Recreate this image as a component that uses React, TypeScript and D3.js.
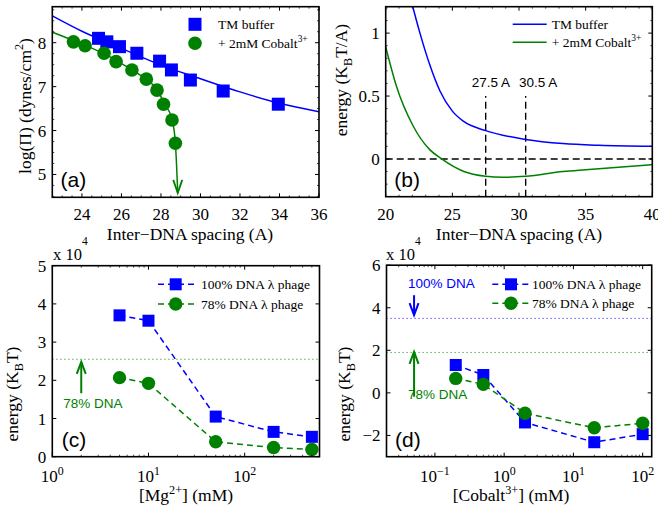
import React, { useEffect, useRef } from 'react';
import * as d3 from 'd3';

const BLUE = '#0000ff';
const GREEN = '#008000';
const SERIF = '"Liberation Serif", "Times New Roman", serif';
const SANS = '"Liberation Sans", Arial, sans-serif';

// (a) osmotic pressure vs inter-DNA spacing
const tmSpacing = [24.84, 25.26, 25.9, 26.78, 27.93, 28.53, 29.49, 31.15, 33.94];
const tmLogP = [8.1, 8.02, 7.91, 7.76, 7.58, 7.38, 7.15, 6.9, 6.6];
const coSpacing = [23.57, 24.16, 25.12, 25.73, 26.53, 27.26, 27.8, 28.13, 28.56, 28.73];
const coLogP = [8.02, 7.93, 7.76, 7.57, 7.38, 7.17, 6.92, 6.6, 6.24, 5.71];
const tmFitX = [22.5, 24, 26, 28, 30, 32, 34, 36];
const tmFitY = [8.61, 8.26, 7.87, 7.49, 7.18, 6.88, 6.62, 6.43];
const coFitX = [22.5, 23.57, 24.16, 25.12, 25.73, 26.53, 27.26, 27.8, 28.13, 28.56, 28.73, 28.85];
const coFitY = [8.24, 8.05, 7.94, 7.75, 7.6, 7.38, 7.16, 6.94, 6.65, 6.25, 5.72, 4.58];

// (b) interaction energy per length
const tmEX = [22.03, 22.57, 23.3, 24.07, 25, 25.82, 27.5, 30.5, 33.3, 36, 40];
const tmEY = [1.21, 1.0, 0.75, 0.54, 0.38, 0.3, 0.225, 0.155, 0.122, 0.108, 0.1];
const coEX = [20, 20.8, 22.07, 23.3, 24.2, 25.82, 27.5, 28.8, 30.5, 33.3, 35, 40];
const coEY = [0.89, 0.58, 0.26, 0.074, 0, -0.098, -0.138, -0.146, -0.138, -0.1, -0.085, -0.045];
const markSpacing = [27.5, 30.5];

// (c) energy vs Mg2+
const mgConc = [5, 10, 50, 200, 500];
const mgFull = [37000, 35600, 10500, 6500, 5200];
const mgPart = [20700, 19200, 3900, 2400, 1900];
const mgRef78 = 25500;

// (d) energy vs Cobalt3+
const coConc = [0.2, 0.5, 2, 20, 100];
const coFull = [13100, 8400, -13900, -23200, -19400];
const coPart = [6800, 4000, -9600, -16400, -14300];
const coRef100 = 35000;
const coRef78 = 19000;

type Box = { left: number; right: number; top: number; bottom: number };

function rich(text: any, parts: [string, number][], fs: number) {
  let cur = 0;
  parts.forEach(([s, k]) => {
    const off = k === 1 ? -0.42 * fs : k === -1 ? 0.3 * fs : 0;
    text.append('tspan').attr('dy', off - cur).attr('font-size', k ? fs * 0.7 : fs).text(s);
    cur = off;
  });
}

function clip(svg: any, id: string, b: Box) {
  svg.append('clipPath').attr('id', id).append('rect')
    .attr('x', b.left).attr('y', b.top).attr('width', b.right - b.left).attr('height', b.bottom - b.top);
}

function ticksFrame(g: any, b: Box, x: any, y: any, xMaj: number[], xMin: number[], yMaj: number[], yMin: number[]) {
  const t = g.append('g').attr('stroke', '#000');
  const seg = (x1: number, y1: number, x2: number, y2: number, w: number) =>
    t.append('line').attr('x1', x1).attr('y1', y1).attr('x2', x2).attr('y2', y2).attr('stroke-width', w);
  xMaj.forEach(v => { const p = x(v); seg(p, b.bottom, p, b.bottom - 4, 1); seg(p, b.top, p, b.top + 4, 1); });
  xMin.forEach(v => { const p = x(v); seg(p, b.bottom, p, b.bottom - 2, 0.7); seg(p, b.top, p, b.top + 2, 0.7); });
  yMaj.forEach(v => { const p = y(v); seg(b.left, p, b.left + 4, p, 1); seg(b.right, p, b.right - 4, p, 1); });
  yMin.forEach(v => { const p = y(v); seg(b.left, p, b.left + 2, p, 0.7); seg(b.right, p, b.right - 2, p, 0.7); });
  g.append('rect').attr('x', b.left).attr('y', b.top).attr('width', b.right - b.left).attr('height', b.bottom - b.top)
    .attr('fill', 'none').attr('stroke', '#000').attr('stroke-width', 1.6);
}

function squares(g: any, xs: number[], ys: number[], x: any, y: any, size: number) {
  g.selectAll(null).data(xs.map((v, i) => [v, ys[i]])).join('rect')
    .attr('x', (d: number[]) => x(d[0]) - size / 2).attr('y', (d: number[]) => y(d[1]) - size / 2)
    .attr('width', size).attr('height', size).attr('fill', BLUE);
}

function circles(g: any, xs: number[], ys: number[], x: any, y: any, r: number) {
  g.selectAll(null).data(xs.map((v, i) => [v, ys[i]])).join('circle')
    .attr('cx', (d: number[]) => x(d[0])).attr('cy', (d: number[]) => y(d[1])).attr('r', r).attr('fill', GREEN);
}

function curve(g: any, xs: number[], ys: number[], x: any, y: any, color: string, w: number, dash?: string) {
  // smooth fits are drawn with a monotone curve, dashed connectors straight
  const line = d3.line<number[]>().x(d => x(d[0])).y(d => y(d[1]))
    .curve(dash ? d3.curveLinear : d3.curveMonotoneX);
  g.append('path').attr('d', line(xs.map((v, i) => [v, ys[i]]))).attr('fill', 'none')
    .attr('stroke', color).attr('stroke-width', w).attr('stroke-dasharray', dash || null);
}

function arrow(g: any, px: number, y0: number, y1: number, color: string) {
  const dir = y1 < y0 ? 1 : -1;
  g.append('line').attr('x1', px).attr('x2', px).attr('y1', y0).attr('y2', y1).attr('stroke', color).attr('stroke-width', 2);
  g.append('path').attr('d', `M${px - 4.5},${y1 + dir * 12} L${px},${y1} L${px + 4.5},${y1 + dir * 12}`)
    .attr('fill', 'none').attr('stroke', color).attr('stroke-width', 2);
}

function yLabel(g: any, bx: number, cy: number, parts: [string, number][], fs: number) {
  const t = g.append('text').attr('transform', `translate(${bx},${cy}) rotate(-90)`)
    .attr('text-anchor', 'middle').attr('font-family', SERIF).attr('font-size', fs);
  rich(t, parts, fs);
}

function xLabel(g: any, cx: number, by: number, parts: [string, number][], fs: number) {
  const t = g.append('text').attr('x', cx).attr('y', by)
    .attr('text-anchor', 'middle').attr('font-family', SERIF).attr('font-size', fs);
  rich(t, parts, fs);
}

function serifText(g: any, px: number, py: number, parts: [string, number][], fs: number, anchor = 'start') {
  const t = g.append('text').attr('x', px).attr('y', py).attr('text-anchor', anchor)
    .attr('font-family', SERIF).attr('font-size', fs);
  rich(t, parts, fs);
}

function sansText(g: any, px: number, py: number, s: string, fs: number, color = '#000') {
  g.append('text').attr('x', px).attr('y', py).attr('font-family', SANS).attr('font-size', fs).attr('fill', color).text(s);
}

const TICK_FS = 17;
const LAB_FS = 17.5;
const LEG_FS = 13.5;
const minus = (v: number) => String(v).replace('-', '\u2212');

function drawA(svg: any) {
  const b: Box = { left: 52.3, right: 319, top: 6.7, bottom: 197.3 };
  const x = d3.scaleLinear().domain([22.5, 36]).range([b.left, b.right]);
  const y = d3.scaleLinear().domain([4.48, 8.82]).range([b.bottom, b.top]);
  clip(svg, 'clipA', b);
  const g = svg.append('g');
  const plot = g.append('g').attr('clip-path', 'url(#clipA)');
  curve(plot, tmFitX, tmFitY, x, y, BLUE, 1.5);
  curve(plot, coFitX, coFitY, x, y, GREEN, 1.5);
  const tip = coFitX.length - 1;
  const tx = x(coFitX[tip]), ty = y(coFitY[tip]);
  g.append('path').attr('d', `M${tx - 4.5},${ty - 13} L${tx},${ty} L${tx + 4.5},${ty - 13}`)
    .attr('fill', 'none').attr('stroke', GREEN).attr('stroke-width', 1.8);
  squares(g, tmSpacing, tmLogP, x, y, 13);
  circles(g, coSpacing, coLogP, x, y, 6.8);

  const xMaj = d3.range(24, 36.1, 2);
  const xMin = d3.range(22.5, 36.01, 0.5).filter(v => !xMaj.includes(v));
  const yMaj = [5, 6, 7, 8];
  const yMin = d3.range(4.5, 8.8, 0.25).filter(v => !yMaj.includes(v));
  ticksFrame(g, b, x, y, xMaj, xMin, yMaj, yMin);
  g.selectAll(null).data(xMaj).join('text').attr('x', (d: number) => x(d)).attr('y', 219.5)
    .attr('text-anchor', 'middle').attr('font-family', SERIF).attr('font-size', TICK_FS).text((d: number) => d);
  g.selectAll(null).data(yMaj).join('text').attr('x', b.left - 6).attr('y', (d: number) => y(d) + 6)
    .attr('text-anchor', 'end').attr('font-family', SERIF).attr('font-size', TICK_FS).text((d: number) => d);

  // legend
  g.append('rect').attr('x', 195 - 6.5).attr('y', 24.3 - 6.5).attr('width', 13).attr('height', 13).attr('fill', BLUE);
  g.append('circle').attr('cx', 195).attr('cy', 43.3).attr('r', 6.8).attr('fill', GREEN);
  serifText(g, 218, 29, [['TM buffer', 0]], LEG_FS);
  serifText(g, 218, 48, [['+ 2mM Cobalt', 0], ['3+', 1]], LEG_FS);

  sansText(g, 60.5, 187, '(a)', 21);
  xLabel(g, 190, 240, [['Inter\u2212DNA spacing (A)', 0]], LAB_FS);
  yLabel(g, 30.5, 106, [['log(\u03a0) (dynes/cm', 0], ['2', 1], [')', 0]], LAB_FS);
}

function drawB(svg: any) {
  const b: Box = { left: 385.7, right: 652.3, top: 6.7, bottom: 196.7 };
  const x = d3.scaleLinear().domain([20, 40]).range([b.left, b.right]);
  const y = d3.scaleLinear().domain([-0.3, 1.21]).range([b.bottom, b.top]);
  clip(svg, 'clipB', b);
  const g = svg.append('g');
  const plot = g.append('g').attr('clip-path', 'url(#clipB)');
  plot.append('line').attr('x1', x(20)).attr('x2', x(40)).attr('y1', y(0)).attr('y2', y(0))
    .attr('stroke', '#000').attr('stroke-width', 1.4).attr('stroke-dasharray', '7,4');
  markSpacing.forEach(v => {
    plot.append('line').attr('x1', x(v)).attr('x2', x(v)).attr('y1', y(-0.3)).attr('y2', y(0.5))
      .attr('stroke', '#000').attr('stroke-width', 1.4).attr('stroke-dasharray', '7,4');
  });
  curve(plot, tmEX, tmEY, x, y, BLUE, 1.5);
  curve(plot, coEX, coEY, x, y, GREEN, 1.5);
  sansText(g, x(26.45), y(0.57), '27.5 A', 13.5);
  sansText(g, x(30.0), y(0.57), '30.5 A', 13.5);

  const xMaj = [20, 25, 30, 35, 40];
  const xMin = d3.range(21, 40, 1).filter(v => !xMaj.includes(v));
  const yMaj = [0, 0.5, 1];
  const yMin = d3.range(-0.2, 1.21, 0.1).filter(v => !yMaj.some(m => Math.abs(m - v) < 1e-6));
  ticksFrame(g, b, x, y, xMaj, xMin, yMaj, yMin);
  g.selectAll(null).data(xMaj).join('text').attr('x', (d: number) => x(d)).attr('y', 219.5)
    .attr('text-anchor', 'middle').attr('font-family', SERIF).attr('font-size', TICK_FS).text((d: number) => d);
  g.selectAll(null).data(yMaj).join('text').attr('x', b.left - 6).attr('y', (d: number) => y(d) + 6)
    .attr('text-anchor', 'end').attr('font-family', SERIF).attr('font-size', TICK_FS).text((d: number) => d);

  g.append('line').attr('x1', 512.7).attr('x2', 546.7).attr('y1', 24.3).attr('y2', 24.3).attr('stroke', BLUE).attr('stroke-width', 1.5);
  g.append('line').attr('x1', 512.7).attr('x2', 546.7).attr('y1', 42.3).attr('y2', 42.3).attr('stroke', GREEN).attr('stroke-width', 1.5);
  serifText(g, 551.7, 29, [['TM buffer', 0]], LEG_FS);
  serifText(g, 551.7, 47, [['+ 2mM Cobalt', 0], ['3+', 1]], LEG_FS);

  sansText(g, 394.3, 187, '(b)', 21);
  xLabel(g, 519, 240, [['Inter\u2212DNA spacing (A)', 0]], LAB_FS);
  yLabel(g, 347, 80, [['energy (K', 0], ['B', -1], ['T/A)', 0]], LAB_FS);
}

function logLabels(g: any, x: any, exps: number[], by: number) {
  exps.forEach(k => {
    const t = g.append('text').attr('x', x(Math.pow(10, k))).attr('y', by).attr('text-anchor', 'middle')
      .attr('font-family', SERIF).attr('font-size', TICK_FS);
    rich(t, [['10', 0], [minus(k), 1]], TICK_FS);
  });
}

function legendCD(g: any, x0: number, x1: number, xm: number, yb: number, yg: number, tx: number) {
  g.append('line').attr('x1', x0).attr('x2', x1).attr('y1', yb).attr('y2', yb).attr('stroke', BLUE).attr('stroke-width', 1.5).attr('stroke-dasharray', '6,4');
  g.append('line').attr('x1', x0).attr('x2', x1).attr('y1', yg).attr('y2', yg).attr('stroke', GREEN).attr('stroke-width', 1.5).attr('stroke-dasharray', '6,4');
  g.append('rect').attr('x', xm - 6).attr('y', yb - 6).attr('width', 12).attr('height', 12).attr('fill', BLUE);
  g.append('circle').attr('cx', xm).attr('cy', yg).attr('r', 6.7).attr('fill', GREEN);
  serifText(g, tx, yb + 4.5, [['100% DNA \u03bb phage', 0]], LEG_FS);
  serifText(g, tx, yg + 4.5, [['78% DNA \u03bb phage', 0]], LEG_FS);
}

function drawC(svg: any) {
  const b: Box = { left: 52.3, right: 319.5, top: 265.7, bottom: 456.7 };
  const x = d3.scaleLog().domain([1, 600]).range([b.left, b.right]);
  const y = d3.scaleLinear().domain([0, 50000]).range([b.bottom, b.top]);
  const g = svg.append('g');
  g.append('line').attr('x1', x(1)).attr('x2', x(600)).attr('y1', y(mgRef78)).attr('y2', y(mgRef78))
    .attr('stroke', GREEN).attr('stroke-opacity', 0.8).attr('stroke-width', 1).attr('stroke-dasharray', '1.2,2.8');
  arrow(g, x(2), y(16600), y(24800), GREEN);
  sansText(g, x(1.3), y(12700), '78% DNA', 13.5, GREEN);
  curve(g, mgConc, mgFull, x, y, BLUE, 1.5, '6,4');
  curve(g, mgConc, mgPart, x, y, GREEN, 1.5, '6,4');
  squares(g, mgConc, mgFull, x, y, 12);
  circles(g, mgConc, mgPart, x, y, 6.7);

  const xMaj = [1, 10, 100];
  const xMin = [2, 3, 4, 5, 6, 7, 8, 9, 20, 30, 40, 50, 60, 70, 80, 90, 200, 300, 400, 500];
  const yMaj = [0, 10000, 20000, 30000, 40000, 50000];
  ticksFrame(g, b, x, y, xMaj, xMin, yMaj, []);
  logLabels(g, x, [0, 1, 2], 481.7);
  g.selectAll(null).data(yMaj).join('text').attr('x', b.left - 6).attr('y', (d: number) => y(d) + 6)
    .attr('text-anchor', 'end').attr('font-family', SERIF).attr('font-size', TICK_FS).text((d: number) => d / 10000);
  serifText(g, 53, 260, [['x 10', 0]], 16.5);
  serifText(g, 82, 245, [['4', 0]], 11.5);

  legendCD(g, 158, 198, 175.7, 284.3, 304, 201);
  sansText(g, 61.7, 446.7, '(c)', 21);
  xLabel(g, 186, 501, [['[Mg', 0], ['2+', 1], ['] (mM)', 0]], LAB_FS);
  yLabel(g, 18, 394, [['energy (K', 0], ['B', -1], ['T)', 0]], LAB_FS);
}

function drawD(svg: any) {
  const b: Box = { left: 386.5, right: 651.7, top: 265.2, bottom: 456.7 };
  const x = d3.scaleLog().domain([0.02, 135]).range([b.left, b.right]);
  const y = d3.scaleLinear().domain([-30000, 60000]).range([b.bottom, b.top]);
  const g = svg.append('g');
  g.append('line').attr('x1', x(0.02)).attr('x2', x(135)).attr('y1', y(coRef100)).attr('y2', y(coRef100))
    .attr('stroke', BLUE).attr('stroke-opacity', 0.8).attr('stroke-width', 1).attr('stroke-dasharray', '1.2,2.8');
  g.append('line').attr('x1', x(0.02)).attr('x2', x(135)).attr('y1', y(coRef78)).attr('y2', y(coRef78))
    .attr('stroke', GREEN).attr('stroke-opacity', 0.8).attr('stroke-width', 1).attr('stroke-dasharray', '1.2,2.8');
  arrow(g, x(0.05), y(45900), y(36500), BLUE);
  arrow(g, x(0.05), y(-1800), y(19300), GREEN);
  sansText(g, x(0.041), y(49300), '100% DNA', 13.5, BLUE);
  sansText(g, x(0.041), y(-2900), '78% DNA', 13.5, GREEN);
  curve(g, coConc, coFull, x, y, BLUE, 1.5, '6,4');
  curve(g, coConc, coPart, x, y, GREEN, 1.5, '6,4');
  squares(g, coConc, coFull, x, y, 12);
  circles(g, coConc, coPart, x, y, 6.7);

  const xMaj = [0.1, 1, 10, 100];
  const xMin: number[] = [];
  [0.01, 0.1, 1, 10].forEach(d => [2, 3, 4, 5, 6, 7, 8, 9].forEach(m => {
    const v = d * m;
    if (v >= 0.02 && v <= 135) xMin.push(v);
  }));
  const yMaj = [-20000, 0, 20000, 40000, 60000];
  ticksFrame(g, b, x, y, xMaj, xMin, yMaj, []);
  logLabels(g, x, [-1, 0, 1, 2], 481.7);
  g.selectAll(null).data(yMaj).join('text').attr('x', b.left - 6).attr('y', (d: number) => y(d) + 6)
    .attr('text-anchor', 'end').attr('font-family', SERIF).attr('font-size', TICK_FS).text((d: number) => minus(d / 10000));
  serifText(g, 386, 260, [['x 10', 0]], 16.5);
  serifText(g, 415, 245, [['4', 0]], 11.5);

  legendCD(g, 492.3, 530, 511, 284.3, 303.3, 532);
  sansText(g, 395, 446.7, '(d)', 21);
  xLabel(g, 511, 501, [['[Cobalt', 0], ['3+', 1], ['] (mM)', 0]], LAB_FS);
  yLabel(g, 350, 394, [['energy (K', 0], ['B', -1], ['T)', 0]], LAB_FS);
}

export default function App() {
  const ref = useRef<SVGSVGElement>(null);
  useEffect(() => {
    const svg = d3.select(ref.current);
    svg.selectAll('*').remove();
    drawA(svg);
    drawB(svg);
    drawC(svg);
    drawD(svg);
  }, []);
  return (
    <svg ref={ref} width={658} height={510}
      style={{ position: 'absolute', left: 0, top: 0, background: '#fff' }} />
  );
}
